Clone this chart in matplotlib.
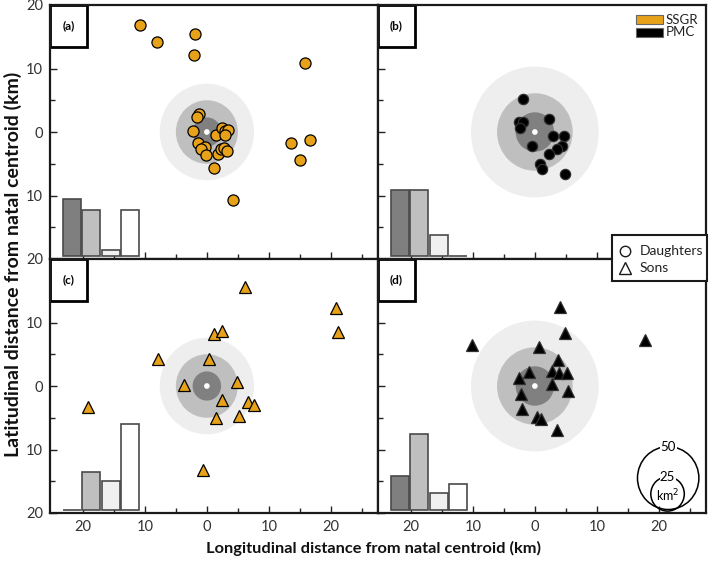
import matplotlib
matplotlib.use("Agg")
import matplotlib.pyplot as plt
from matplotlib.patches import Circle, Rectangle
from matplotlib.lines import Line2D
from matplotlib.ticker import FixedLocator, FuncFormatter

plt.rcParams['font.family'] = ['Lato', 'DejaVu Sans']

# ---------------- data ----------------
# (a) SSGR daughters
a_x = [-10.8, -8.0, -1.9, -2.1, 15.8, -1.3, -1.6, -2.2, 1.5, 2.4, 2.9, 3.4, 3.0,
       -1.5, -0.3, -0.9, -0.2, 1.8, 2.3, 2.7, 3.2, 1.1, 13.6, 16.7, 15.0, 4.2]
a_y = [16.8, 14.1, 15.5, 12.2, 10.8, 2.8, 2.3, 0.2, -0.5, 0.7, 0.2, 0.3, -0.5,
       -1.8, -2.4, -2.7, -3.7, -3.5, -2.7, -2.5, -3.0, -5.7, -1.7, -1.3, -4.4, -10.7]
# (b) PMC daughters
b_x = [-1.9, -2.6, -1.9, -2.4, 2.3, 2.9, 4.7, -0.4, 4.3, 3.5, 2.3, 0.8, 1.1, 4.9]
b_y = [5.2, 1.5, 1.6, 0.6, 2.0, -0.7, -0.7, -2.2, -2.2, -2.6, -3.5, -5.0, -5.9, -6.6]
# (c) SSGR sons
c_x = [6.1, 20.8, 21.1, 1.2, 2.5, -7.9, 0.4, -3.7, 4.9, 2.4, 6.6, 7.6, 5.2, 1.5, -19.1, -0.6]
c_y = [15.6, 12.3, 8.5, 8.2, 8.6, 4.3, 4.3, 0.1, 0.7, -2.2, -2.5, -3.0, -4.7, -5.1, -3.3, -13.2]
# (d) PMC sons
d_x = [4.0, 4.9, -10.2, 17.7, 0.6, 3.7, -0.9, -2.5, 2.8, 3.9, 5.2, 2.7, -2.2, 5.3, -2.0, 0.3, 1.0, 3.6]
d_y = [12.4, 8.4, 6.5, 7.3, 6.2, 4.1, 2.2, 1.2, 2.3, 2.0, 2.0, 0.3, -1.2, -0.8, -3.6, -4.9, -5.2, -6.9]

# ring radii (km): outer, middle, inner
rings_ssgr = [7.6, 5.0, 2.3]
rings_pmc = [10.3, 6.1, 3.1]

# inset histogram proportions (4 distance classes)
hist_a = [0.37, 0.30, 0.04, 0.30]
hist_b = [0.43, 0.43, 0.14, 0.0]
hist_c = [0.0, 0.25, 0.19, 0.56]
hist_d = [0.22, 0.50, 0.11, 0.17]

panel_labels = ['(a)', '(b)', '(c)', '(d)']
tick_vals = [-20, -10, 0, 10, 20]

# ---------------- style ----------------
ORANGE = '#E8A21A'
RING_COLORS = ['#eeeeee', '#bfbfbf', '#808080']
BAR_COLORS = ['#7f7f7f', '#bfbfbf', '#f0f0f0', '#ffffff']
XLIM = (-25.3, 27.6)
YLIM = (-20, 20)

W, H = 709, 563
fig = plt.figure(figsize=(W / 100, H / 100), dpi=100)

L, M, R = 50 / W, 378 / W, 706 / W
T, MID, B = (H - 5) / H, (H - 259) / H, (H - 513) / H

ax_a = fig.add_axes([L, MID, M - L, T - MID])
ax_b = fig.add_axes([M, MID, R - M, T - MID])
ax_c = fig.add_axes([L, B, M - L, MID - B])
ax_d = fig.add_axes([M, B, R - M, MID - B])

panels = [
    (ax_a, a_x, a_y, ORANGE, 'o', rings_ssgr, hist_a),
    (ax_b, b_x, b_y, 'black', 'o', rings_pmc, hist_b),
    (ax_c, c_x, c_y, ORANGE, '^', rings_ssgr, hist_c),
    (ax_d, d_x, d_y, 'black', '^', rings_pmc, hist_d),
]

absfmt = FuncFormatter(lambda v, p: f"{abs(int(round(v)))}")

for i, (ax, xs, ys, col, mk, rings, hist) in enumerate(panels):
    ax.set_xlim(*XLIM)
    ax.set_ylim(*YLIM)
    for r, rc in zip(rings, RING_COLORS):
        ax.add_patch(Circle((0, 0), r, fc=rc, ec='none', zorder=1))
    ax.add_patch(Circle((0, 0), 0.45, fc='white', ec='none', zorder=2))

    if mk == 'o':
        ms = 8.0 if col == ORANGE else 7.4
    else:
        ms = 9.3
    ec = 'black' if col == ORANGE else '#303030'
    ax.plot(xs, ys, linestyle='none', marker=mk, ms=ms, mfc=col, mec=ec,
            mew=0.9, zorder=5)

    # ticks
    ax.xaxis.set_major_locator(FixedLocator(tick_vals))
    ax.yaxis.set_major_locator(FixedLocator(tick_vals))
    ax.xaxis.set_minor_locator(FixedLocator([-15, -5, 5, 15, 25]))
    ax.yaxis.set_minor_locator(FixedLocator([-15, -5, 5, 15]))
    ax.tick_params(which='both', direction='in', top=False, right=False,
                   color='#222222', width=1.0, labelsize=10.5,
                   labelcolor='#333333', pad=5)
    ax.tick_params(which='major', length=5)
    ax.tick_params(which='minor', length=3.5)
    ax.xaxis.set_major_formatter(absfmt)
    ax.yaxis.set_major_formatter(absfmt)
    if ax in (ax_a, ax_b):
        ax.tick_params(labelbottom=False)
    if ax in (ax_b, ax_d):
        ax.tick_params(labelleft=False)
    if ax is ax_c:
        ax.yaxis.set_major_formatter(FuncFormatter(
            lambda v, p: '' if v > 15 else f"{abs(int(round(v)))}"))
    for s in ax.spines.values():
        s.set_linewidth(1.6)
        s.set_color('#1a1a1a')
        s.set_zorder(10)

    # panel label box
    bw, bh = 37 / 328, 42 / 254
    ax.add_patch(Rectangle((0, 1 - bh), bw, bh, transform=ax.transAxes,
                           fc='white', ec='black', lw=2.0, zorder=8,
                           clip_on=False))
    ax.text(bw / 2, 1 - bh / 2, panel_labels[i], transform=ax.transAxes,
            ha='center', va='center', fontsize=8.5, fontweight='bold', zorder=9)

    # inset histogram
    ins = ax.inset_axes([12 / 328, 3 / 254, 78 / 328, 153 / 254])
    ins.bar(range(4), hist, width=0.93, color=BAR_COLORS, edgecolor='#4a4a4a',
            linewidth=1.2, clip_on=False, zorder=3)
    ins.set_xlim(-0.5, 3.5)
    ins.set_ylim(0, 1)
    ins.axis('off')
    ins.patch.set_alpha(0)

# SSGR / PMC legend
for yy, lab, fc in [(15, 'SSGR', ORANGE), (28, 'PMC', 'black')]:
    fig.add_artist(Rectangle((636 / W, (H - yy - 9) / H), 27 / W, 9 / H,
                             transform=fig.transFigure, fc=fc, ec='#666666',
                             lw=0.8, zorder=20))
    fig.text(666 / W, (H - yy - 4.5) / H, lab, ha='left', va='center',
             fontsize=9.5, color='#222222', zorder=20)

# Daughters / Sons legend box
fig.add_artist(Rectangle((612 / W, (H - 281) / H), (707 - 612) / W, 46 / H,
                         transform=fig.transFigure, fc='white', ec='#1a1a1a',
                         lw=1.5, zorder=20))
fig.add_artist(Line2D([625 / W], [(H - 251) / H], transform=fig.transFigure,
                      marker='o', ms=7.5, mfc='white', mec='#1a1a1a', mew=1.0,
                      linestyle='none', zorder=21))
fig.add_artist(Line2D([625 / W], [(H - 268) / H], transform=fig.transFigure,
                      marker='^', ms=8.5, mfc='white', mec='#1a1a1a', mew=1.0,
                      linestyle='none', zorder=21))
fig.text(640 / W, (H - 251) / H, 'Daughters', ha='left', va='center',
         fontsize=10, color='#222222', zorder=22)
fig.text(640 / W, (H - 268) / H, 'Sons', ha='left', va='center',
         fontsize=10, color='#222222', zorder=22)

# area scale legend in (d)
ax_d.add_patch(Circle((21.5, -14.5), 4.95, fc='none', ec='black', lw=1.1,
                      zorder=6))
ax_d.add_patch(Circle((21.4, -17.0), 2.7, fc='none', ec='black', lw=1.1,
                      zorder=6))
ax_d.text(21.5, -9.6, '50', ha='center', va='center', fontsize=9.5,
          zorder=7, bbox=dict(fc='white', ec='none', pad=0.5))
ax_d.text(21.4, -14.3, '25', ha='center', va='center', fontsize=9.5,
          zorder=7, bbox=dict(fc='white', ec='none', pad=0.2))
ax_d.text(21.4, -17.2, 'km$^2$', ha='center', va='center', fontsize=9,
          zorder=7)

# axis titles
fig.text(374 / W, (H - 548) / H, 'Longitudinal distance from natal centroid (km)',
         ha='center', va='center', fontsize=11.8, fontweight='bold',
         color='#111111')
fig.text(13 / W, (H - 264) / H, 'Latitudinal distance from natal centroid (km)',
         ha='center', va='center', rotation=90, fontsize=14,
         fontweight='bold', color='#111111')

fig.savefig('out.png', dpi=100)
